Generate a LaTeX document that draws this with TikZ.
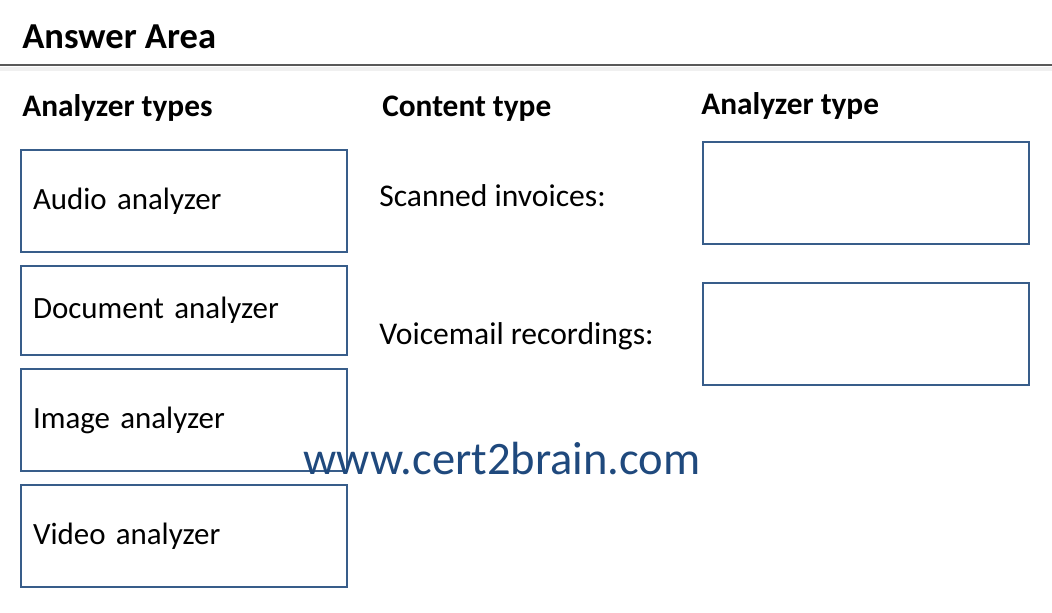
\documentclass[tikz,border=0pt]{standalone}
\usepackage{fontspec}
\setmainfont{Carlito}
\usepackage{xcolor}
\usepackage{tikz}
\usetikzlibrary{positioning}

\definecolor{boxblue}{RGB}{56,93,138}
\definecolor{markblue}{RGB}{31,73,125}

\begin{document}
\begin{tikzpicture}[
  x=0.75pt, y=-0.75pt,
  head/.style={anchor=west, inner sep=0pt, font=\fontsize{23.5}{27}\selectfont\bfseries},
  label/.style={anchor=west, inner sep=0pt, font=\fontsize{23.7}{27}\selectfont},
  pick/.style={draw=boxblue, line width=1.5pt, anchor=north west, inner xsep=9pt, inner ysep=0pt,
    text width=226.5pt, align=left, minimum height=#1, font=\fontsize{23.2}{27}\selectfont},
  slot/.style={draw=boxblue, line width=1.5pt, anchor=north west, inner sep=0pt,
    minimum width=244.5pt, minimum height=76.5pt}
]
  \fill[white] (0,0) rectangle (1052,613);
  \useasboundingbox (0,0) rectangle (1052,613);

  % header
  \node[head, font=\fontsize{27.4}{32}\selectfont\bfseries] (title) at (22,37) {Answer Area};
  \coordinate (rl) at (0,65);
  \coordinate (rr) at (1052,65);
  \draw[gray!12, line width=3pt] ([yshift=-3pt]rl) -- ([yshift=-3pt]rr);
  \draw[black!65, line width=1.5pt] (rl) -- (rr);

  % column heads
  \node[head] (types) at (22,108) {Analyzer types};
  \node[head] (content) at (382,109) {Content type};
  \node[head] (answer) at (701,106) {Analyzer type};

  % choices
  \node[pick=76.5pt] (audio) at (20,149) {Audio analyzer};
  \node[pick=66.75pt] (document) at (20,265) {Document analyzer};
  \node[pick=76.5pt] (image) at (20,368) {Image analyzer};
  \node[pick=76.5pt] (video) at (20,484) {Video analyzer};

  % targets
  \node[label] (scanned) at (379,196) {Scanned invoices:};
  \node[label] (voicemail) at (379,336) {Voicemail recordings:};
  \node[slot] (slota) at (702,141) {};
  \node[slot] (slotb) at (702,282) {};

  \node[font=\fontsize{34.9}{40}\selectfont, text=markblue, inner sep=0pt] (mark) at (502,459) {www.cert2brain.com};
\end{tikzpicture}
\end{document}
